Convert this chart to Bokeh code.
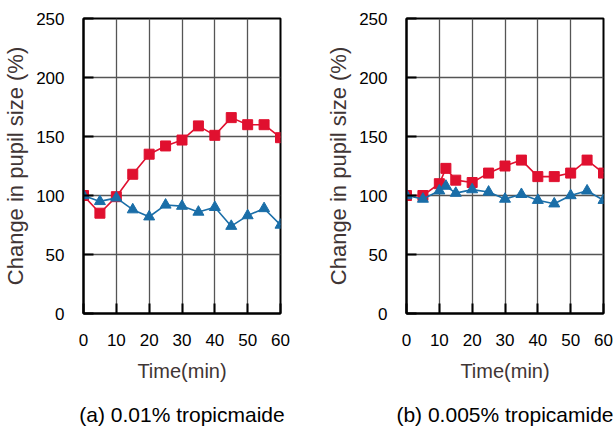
from bokeh.plotting import figure
from bokeh.layouts import row
from bokeh.models import Range1d, FixedTicker, LinearAxis
from bokeh.embed import file_html
from bokeh.resources import INLINE

# Data
time_a = [0, 5, 10, 15, 20, 25, 30, 35, 40, 45, 50, 55, 60]
red_a = [100, 85, 99, 118, 135, 142, 147, 159, 151, 166, 160, 160, 149]
blue_a = [100, 95, 98, 88, 82, 92, 91, 86, 90, 74, 83, 89, 75]

time_b = [0, 5, 10, 12, 15, 20, 25, 30, 35, 40, 45, 50, 55, 60]
red_b = [100, 100, 110, 123, 113, 111, 119, 125, 130, 116, 116, 119, 130, 119]
blue_b = [100, 97, 104, 108, 102, 105, 103, 97, 101, 96, 93, 100, 104, 96]

x_ticks = [0, 10, 20, 30, 40, 50, 60]
y_ticks = [0, 50, 100, 150, 200, 250]
captions = ["(a) 0.01% tropicmaide", "(b) 0.005% tropicamide"]

RED = "#e0102f"
BLUE = "#1a6ea8"
FONT = "Liberation Sans"
LABEL_COLOR = "#3f3535"


def make_fig(t, red, blue, caption, cap_bounds, width, left_border, right_border):
    p = figure(width=width, height=428, output_backend="svg", toolbar_location=None,
               x_range=Range1d(0, 60), y_range=Range1d(0, 250),
               min_border_left=left_border, min_border_right=right_border,
               min_border_top=18, min_border_bottom=115)
    p.outline_line_color = "black"
    p.outline_line_width = 2
    p.background_fill_color = "white"
    p.border_fill_color = "white"

    p.xaxis.ticker = FixedTicker(ticks=x_ticks)
    p.yaxis.ticker = FixedTicker(ticks=y_ticks)
    for ax in (p.xaxis[0], p.yaxis[0]):
        ax.major_tick_in = 10
        ax.major_tick_out = 0
        ax.minor_tick_in = 0
        ax.minor_tick_out = 0
        ax.major_tick_line_color = "black"
        ax.major_tick_line_width = 2
        ax.axis_line_color = "black"
        ax.axis_line_width = 2
        ax.major_label_text_font = FONT
        ax.major_label_text_font_size = "17px"
        ax.major_label_text_color = "black"
        ax.axis_label_text_font = FONT
        ax.axis_label_text_font_style = "normal"
        ax.axis_label_text_color = LABEL_COLOR

    p.xaxis.axis_label_text_font_size = "20px"
    p.yaxis.axis_label_text_font_size = "22px"
    p.xaxis.major_label_standoff = 20
    p.yaxis.major_label_standoff = 19
    p.xaxis.axis_label = "Time(min)"
    p.xaxis.axis_label_standoff = 11
    p.yaxis.axis_label = "Change in pupil size (%)"
    p.yaxis.axis_label_standoff = 5

    p.grid.grid_line_color = "#555555"
    p.grid.grid_line_width = 1.3

    p.line(t, red, line_color=RED, line_width=1.6)
    p.scatter(t, red, marker="square", size=10, fill_color=RED, line_color=RED)
    p.line(t, blue, line_color=BLUE, line_width=1.6)
    p.scatter(t, blue, marker="triangle", size=11, fill_color=BLUE, line_color=BLUE)

    # caption as a tick-less extra axis below the x axis
    cap = LinearAxis(ticker=FixedTicker(ticks=[]), axis_label=caption, bounds=cap_bounds,
                     axis_line_color=None, major_tick_line_color=None,
                     minor_tick_line_color=None, major_tick_in=0, major_tick_out=0,
                     minor_tick_in=0, minor_tick_out=0,
                     axis_label_standoff=18, axis_label_text_font=FONT,
                     axis_label_text_font_size="21px", axis_label_text_font_style="normal",
                     axis_label_text_color="black")
    p.add_layout(cap, "below")
    return p


p1 = make_fig(time_a, red_a, blue_a, captions[0], (0, 53.3), 320, 83, 40)
p2 = make_fig(time_b, red_b, blue_b, captions[1], (0, 57.3), 296, 86, 13)

layout = row(p1, p2)
open("out.html", "w").write(file_html(layout, INLINE))
